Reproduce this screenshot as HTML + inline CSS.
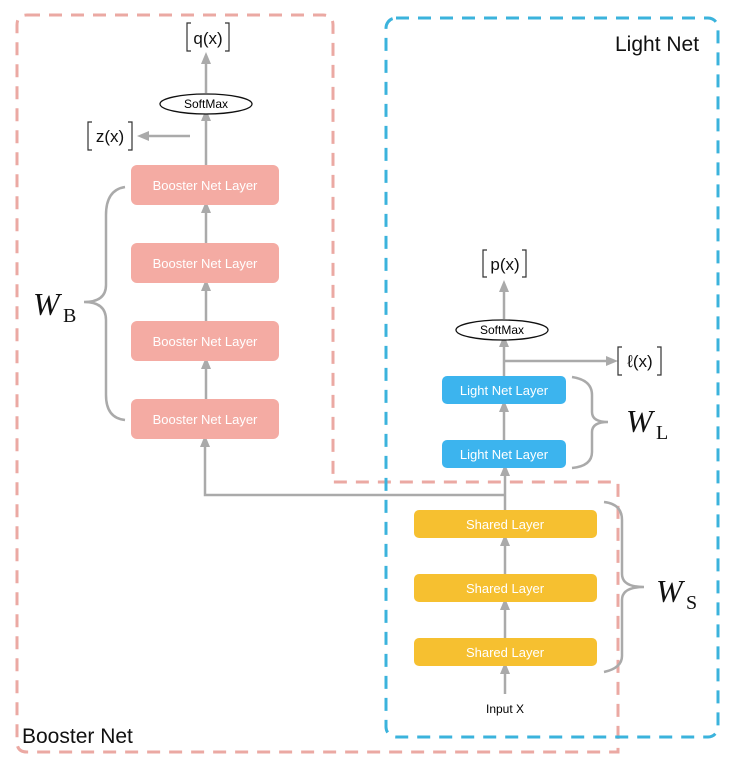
<!DOCTYPE html>
<html><head><meta charset="utf-8"><style>
body{margin:0;background:#fff}
svg{display:block;font-family:"Liberation Sans",sans-serif}
</style></head><body>
<svg width="737" height="777" viewBox="0 0 737 777" xmlns="http://www.w3.org/2000/svg">
<defs>
<marker id="a" markerWidth="12" markerHeight="12" refX="6" refY="6" orient="auto" markerUnits="userSpaceOnUse">
<path d="M0,1 L12,6 L0,11 Z" fill="#aaa"/></marker>
</defs>
<path d="M27,15 H323 Q333,15 333,25 V482 H618 V752 H27 Q17,752 17,742 V25 Q17,15 27,15 Z" fill="none" stroke="#eba9a3" stroke-width="3" stroke-dasharray="13,9"/>
<rect x="386" y="18" width="332" height="719" rx="10" fill="none" stroke="#3bb3dc" stroke-width="3" stroke-dasharray="13,9"/>
<text x="615" y="51" font-size="21" fill="#111">Light Net</text>
<text x="22" y="743" font-size="21" fill="#111">Booster Net</text>

<g stroke="#aaa" stroke-width="2.5" fill="none">
<line x1="206" y1="93" x2="206" y2="58" marker-end="url(#a)"/>
<line x1="206" y1="165" x2="206" y2="115" marker-end="url(#a)"/>
<line x1="190" y1="136" x2="143" y2="136" marker-end="url(#a)"/>
<line x1="206" y1="243" x2="206" y2="207" marker-end="url(#a)"/>
<line x1="206" y1="321" x2="206" y2="285" marker-end="url(#a)"/>
<line x1="206" y1="399" x2="206" y2="363" marker-end="url(#a)"/>
<path d="M505,495 H205 V441" marker-end="url(#a)"/>
<line x1="504" y1="376" x2="504" y2="341" marker-end="url(#a)"/>
<line x1="504" y1="361" x2="612" y2="361" marker-end="url(#a)"/>
<line x1="504" y1="319" x2="504" y2="286" marker-end="url(#a)"/>
<line x1="504" y1="440" x2="504" y2="406" marker-end="url(#a)"/>
<line x1="505" y1="510" x2="505" y2="470" marker-end="url(#a)"/>
<line x1="505" y1="574" x2="505" y2="540" marker-end="url(#a)"/>
<line x1="505" y1="638" x2="505" y2="604" marker-end="url(#a)"/>
<line x1="505" y1="694" x2="505" y2="668" marker-end="url(#a)"/>
<path d="M125,187 Q106,190 106,215 V285 Q106,302 84,302 Q106,302 106,320 V395 Q106,418 125,420"/>
<path d="M572,377 Q592,380 592,395 V412 Q592,422 608,422 Q592,422 592,432 V452 Q592,466 572,468"/>
<path d="M604,502 Q622,504 622,520 V574 Q622,587 644,587 Q622,587 622,600 V656 Q622,668 604,672"/>
</g>

<g fill="#f4aba3">
<rect x="131" y="165" width="148" height="40" rx="6"/>
<rect x="131" y="243" width="148" height="40" rx="6"/>
<rect x="131" y="321" width="148" height="40" rx="6"/>
<rect x="131" y="399" width="148" height="40" rx="6"/>
</g>
<g fill="#fff" font-size="13" text-anchor="middle">
<text x="205" y="190">Booster Net Layer</text>
<text x="205" y="268">Booster Net Layer</text>
<text x="205" y="346">Booster Net Layer</text>
<text x="205" y="424">Booster Net Layer</text>
</g>
<g fill="#3cb4ee">
<rect x="442" y="376" width="124" height="28" rx="5"/>
<rect x="442" y="440" width="124" height="28" rx="5"/>
</g>
<g fill="#f6c030">
<rect x="414" y="510" width="183" height="28" rx="5"/>
<rect x="414" y="574" width="183" height="28" rx="5"/>
<rect x="414" y="638" width="183" height="28" rx="5"/>
</g>
<g fill="#fff" font-size="13" text-anchor="middle">
<text x="504" y="395">Light Net Layer</text>
<text x="504" y="459">Light Net Layer</text>
<text x="505" y="529">Shared Layer</text>
<text x="505" y="593">Shared Layer</text>
<text x="505" y="657">Shared Layer</text>
</g>
<ellipse cx="206" cy="104" rx="46" ry="10" fill="#fff" stroke="#111" stroke-width="1.3"/>
<text x="206" y="108" font-size="12" text-anchor="middle">SoftMax</text>
<ellipse cx="502" cy="330" rx="46" ry="10" fill="#fff" stroke="#111" stroke-width="1.3"/>
<text x="502" y="334" font-size="12" text-anchor="middle">SoftMax</text>
<text x="505" y="713" font-size="12" text-anchor="middle">Input X</text>

<g font-size="17" fill="#111" text-anchor="middle">
<text x="208" y="44">q(x)</text>
<text x="110" y="142">z(x)</text>
<text x="505" y="270">p(x)</text>
<text x="640" y="367">ℓ(x)</text>
</g>
<g stroke="#333" stroke-width="1.2" fill="none">
<path d="M191,23 H187 V51 H191 M225,23 H229 V51 H225"/>
<path d="M92,122 H88 V150 H92 M128,122 H132 V150 H128"/>
<path d="M487,250 H483 V277 H487 M522,250 H526 V277 H522"/>
<path d="M622,347 H618 V375 H622 M657,347 H661 V375 H657"/>
</g>
<g font-family="'Liberation Serif',serif" fill="#111">
<text x="33" y="315" font-size="32" font-style="italic">W</text><text x="63" y="322" font-size="20">B</text>
<text x="626" y="432" font-size="32" font-style="italic">W</text><text x="656" y="439" font-size="20">L</text>
<text x="656" y="602" font-size="32" font-style="italic">W</text><text x="686" y="609" font-size="20">S</text>
</g>
</svg>
</body></html>
